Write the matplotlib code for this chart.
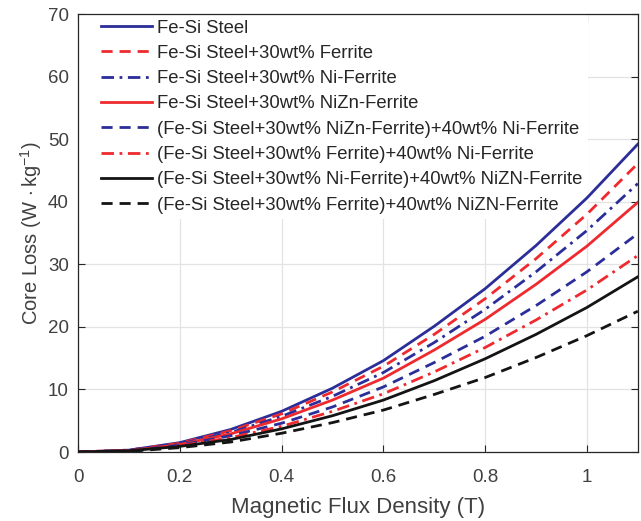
import matplotlib
matplotlib.use("Agg")
from matplotlib import pyplot as plt
from matplotlib.lines import Line2D
from matplotlib.legend_handler import HandlerLine2D

plt.rcParams['font.family'] = ['Liberation Sans', 'DejaVu Sans']
plt.rcParams['mathtext.fontset'] = 'custom'
plt.rcParams['mathtext.rm'] = 'Liberation Sans'
plt.rcParams['mathtext.it'] = 'Liberation Sans'

# datos
flux = [0, 0.1, 0.2, 0.3, 0.4, 0.5, 0.6, 0.7, 0.8, 0.9, 1.0, 1.1]

fesi = [0, 0.3, 1.5, 3.6, 6.5, 10.2, 14.6, 20.1, 26.1, 33.0, 40.6, 49.2]
fesi_ferrite = [0, 0.3, 1.4, 3.4, 6.1, 9.6, 13.7, 18.8, 24.5, 30.9, 38.0, 46.1]
fesi_ni = [0, 0.3, 1.3, 3.1, 5.7, 8.9, 12.7, 17.5, 22.8, 28.8, 35.4, 42.9]
fesi_nizn = [0, 0.2, 1.2, 2.9, 5.3, 8.3, 11.8, 16.3, 21.2, 26.8, 32.9, 39.9]
nizn_40ni = [0, 0.2, 1.1, 2.6, 4.6, 7.2, 10.4, 14.3, 18.5, 23.4, 28.8, 34.9]
ferrite_40ni = [0, 0.2, 1.0, 2.3, 4.1, 6.5, 9.3, 12.8, 16.7, 21.1, 25.9, 31.4]
ni_40nizn = [0, 0.2, 0.9, 2.0, 3.7, 5.8, 8.3, 11.4, 14.9, 18.8, 23.1, 28.0]
ferrite_40nizn = [0, 0.1, 0.7, 1.6, 3.0, 4.7, 6.7, 9.2, 11.9, 15.1, 18.6, 22.5]

etiquetas = ['Fe-Si Steel',
             'Fe-Si Steel+30wt% Ferrite',
             'Fe-Si Steel+30wt% Ni-Ferrite',
             'Fe-Si Steel+30wt% NiZn-Ferrite',
             '(Fe-Si Steel+30wt% NiZn-Ferrite)+40wt% Ni-Ferrite',
             '(Fe-Si Steel+30wt% Ferrite)+40wt% Ni-Ferrite',
             '(Fe-Si Steel+30wt% Ni-Ferrite)+40wt% NiZN-Ferrite',
             '(Fe-Si Steel+30wt% Ferrite)+40wt% NiZN-Ferrite']

azul = '#2b2e99'
rojo = '#ee2a2e'
negro = '#141414'
guion = (0, (4, 2.5))
punto = (0, (4.5, 2, 1, 2))

series = [fesi, fesi_ferrite, fesi_ni, fesi_nizn,
          nizn_40ni, ferrite_40ni, ni_40nizn, ferrite_40nizn]
colores = [azul, rojo, azul, rojo, azul, rojo, negro, negro]
estilos = ['-', guion, punto, '-', guion, punto, '-', guion]

fig = plt.figure(figsize=(6.41, 5.21), dpi=100)
ax = fig.add_axes([0.1217, 0.1324, 0.8733, 0.8407])

for y, c, ls, lab in zip(series, colores, estilos, etiquetas):
    ax.plot(flux, y, color=c, linestyle=ls, linewidth=2.0, label=lab, zorder=3)

ax.set_xlim(0, 1.1)
ax.set_ylim(0, 70)
ax.set_xticks([0, 0.2, 0.4, 0.6, 0.8, 1.0])
ax.set_xticklabels(['0', '0.2', '0.4', '0.6', '0.8', '1'])
ax.set_yticks(range(0, 71, 10))
ax.grid(True, color='#e3e3e3', linewidth=0.9)
ax.set_axisbelow(True)

ax.tick_params(direction='in', length=5, width=0.8, colors='#262626',
               labelcolor='#404040', labelsize=13.5, top=True, right=True)
ax.tick_params(axis='x', pad=12.5)
ax.tick_params(axis='y', pad=6.5)
for s in ax.spines.values():
    s.set_color('#262626')
    s.set_linewidth(0.9)

ax.set_xlabel('Magnetic Flux Density (T)', fontsize=16, color='#404040', labelpad=8)
ax.set_ylabel(r'Core Loss (W$\,\cdot$kg$^{-1}$)', fontsize=14.5, color='#404040', labelpad=3)

# leyenda sin borde, solo fondo blanco, debajo de los ejes
leg = ax.legend(loc='upper left', borderaxespad=0, fontsize=13.3, fancybox=False,
                framealpha=1, edgecolor='none', handlelength=3.68,
                handletextpad=0.32, labelspacing=0.45, borderpad=0.3,
                handler_map={Line2D: HandlerLine2D(xpad=0.92)})
leg.set_zorder(2.4)
for t in leg.get_texts():
    t.set_color('#262626')

plt.savefig('out.png', dpi=100)
